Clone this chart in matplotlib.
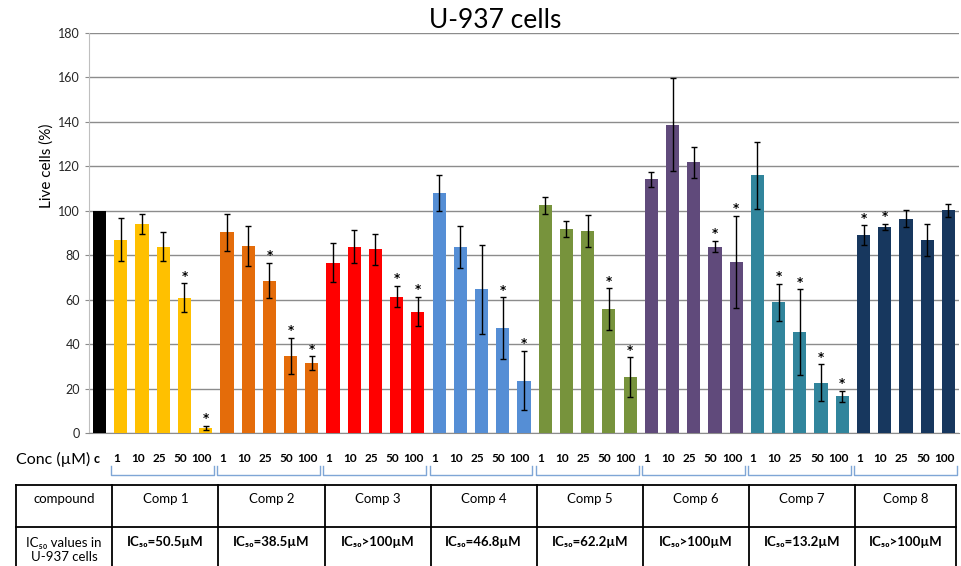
import numpy as np
import matplotlib
matplotlib.use("Agg")
import matplotlib.pyplot as plt

plt.rcParams['font.family'] = ['Lato', 'DejaVu Sans']

# datos
conc = ['1', '10', '25', '50', '100']
compuestos = ['Comp 1', 'Comp 2', 'Comp 3', 'Comp 4', 'Comp 5', 'Comp 6', 'Comp 7', 'Comp 8']
ic50 = ['IC₅₀=50.5µM', 'IC₅₀=38.5µM', 'IC₅₀>100µM', 'IC₅₀=46.8µM',
        'IC₅₀=62.2µM', 'IC₅₀>100µM', 'IC₅₀=13.2µM', 'IC₅₀>100µM']
colores = ['#FFC000', '#E46C0A', '#FF0000', '#558ED5',
           '#77933C', '#604A7B', '#31859C', '#17375E']
control = 100

comp1 = [86.9, 94.2, 83.9, 60.9, 2.4]
comp2 = [90.3, 84.2, 68.6, 34.7, 31.4]
comp3 = [76.7, 83.9, 82.7, 61.4, 54.6]
comp4 = [107.9, 83.6, 64.6, 47.1, 23.6]
comp5 = [102.4, 91.7, 90.9, 55.8, 25.2]
comp6 = [114.2, 138.8, 121.8, 83.9, 77.1]
comp7 = [116.0, 58.8, 45.5, 22.7, 16.5]
comp8 = [88.9, 92.7, 96.5, 86.9, 100.2]

err1 = [9.7, 4.5, 6.4, 6.4, 0.9]
err2 = [8.2, 8.9, 8.0, 8.2, 3.1]
err3 = [8.6, 7.6, 7.0, 4.9, 6.6]
err4 = [8.2, 9.5, 19.9, 13.9, 13.3]
err5 = [3.9, 3.6, 7.0, 9.3, 8.9]
err6 = [3.3, 21.0, 7.0, 2.6, 20.7]
err7 = [15.0, 8.3, 19.2, 8.2, 2.6]
err8 = [4.5, 1.5, 4.0, 7.3, 2.9]

# asterisco = diferencia significativa
sig1 = [0, 0, 0, 1, 1]
sig2 = [0, 0, 1, 1, 1]
sig3 = [0, 0, 0, 1, 1]
sig4 = [0, 0, 0, 1, 1]
sig5 = [0, 0, 0, 1, 1]
sig6 = [0, 0, 0, 1, 1]
sig7 = [0, 1, 1, 1, 1]
sig8 = [1, 1, 0, 0, 0]

medias = [comp1, comp2, comp3, comp4, comp5, comp6, comp7, comp8]
errores = [err1, err2, err3, err4, err5, err6, err7, err8]
signif = [sig1, sig2, sig3, sig4, sig5, sig6, sig7, sig8]

fig = plt.figure(figsize=(9.62, 5.66), dpi=100)
ax = fig.add_axes([89/962, 1-433/566, 870/962, 400/566])

gris = '#8c8c8c'
ax.bar(0, control, width=0.62, color='black', zorder=3)
for k in range(len(compuestos)):
    x = np.arange(5) + 1 + 5*k
    ax.bar(x, medias[k], width=0.62, color=colores[k], zorder=3)
    ax.errorbar(x, medias[k], yerr=errores[k], fmt='none', ecolor='black',
                elinewidth=1, capsize=2, capthick=1, zorder=4)
    for j in range(5):
        if signif[k][j]:
            ax.annotate('*', (x[j], medias[k][j] + errores[k][j]), xytext=(0, 0.5),
                        textcoords='offset points', ha='center', va='bottom',
                        fontsize=8.5, fontweight='bold', family='DejaVu Sans')

ax.set_xlim(-0.5, 40.5)
ax.set_ylim(0, 180)
ax.set_yticks(np.arange(0, 181, 20))
ax.set_xticks([])
ax.yaxis.grid(True, color=gris, lw=1, zorder=0)
ax.set_axisbelow(True)
for s in ['top', 'right']:
    ax.spines[s].set_visible(False)
ax.spines['left'].set_color('#bfbfbf')
ax.spines['bottom'].set_color(gris)
ax.tick_params(axis='y', length=3, color=gris, labelsize=9, labelcolor='#262626')

fig.text(495/962, 1-20/566, 'U-937 cells', ha='center', va='center', fontsize=19)
fig.text(47/962, 1-166/566, 'Live cells (%)', ha='center', va='center',
         rotation=90, fontsize=11)
fig.text(16/962, 1-459/566, 'Conc (µM)', ha='left', va='center', fontsize=11.5)

# etiquetas de concentracion y llaves debajo del eje
tr = ax.get_xaxis_transform()
ax.text(-0.15, -0.065, 'c', transform=tr, ha='center', va='center',
        fontsize=9, fontweight='bold', clip_on=False)
for k in range(len(compuestos)):
    x0 = 1 + 5*k
    for j in range(5):
        ax.text(x0 + j - 0.2, -0.065, conc[j], transform=tr, ha='center', va='center',
                fontsize=8.5, fontweight='bold', clip_on=False)
    ax.plot([x0 - 0.45, x0 - 0.45, x0 + 4.4, x0 + 4.4], [-0.082, -0.105, -0.105, -0.082],
            transform=tr, color='#7fa6d6', lw=1, clip_on=False)

# tabla con los IC50
bordes = [-3.95] + [0.6 + 5*k for k in range(8)] + [40.35]
for b in bordes:
    ax.plot([b, b], [-0.13, -0.34], transform=tr, color='black', lw=1.3, clip_on=False)
for yy in [-0.13, -0.235]:
    ax.plot([bordes[0], bordes[-1]], [yy, yy], transform=tr, color='black', lw=1.3, clip_on=False)

ax.text((bordes[0] + bordes[1])/2, -0.165, 'compound', transform=tr, ha='center',
        va='center', fontsize=9.5, clip_on=False)
ax.text((bordes[0] + bordes[1])/2, -0.2925, 'IC₅₀ values in\nU-937 cells', transform=tr,
        ha='center', va='center', fontsize=9.5, linespacing=1.2, clip_on=False)
for k in range(len(compuestos)):
    cx = (bordes[k+1] + bordes[k+2])/2
    ax.text(cx, -0.165, compuestos[k], transform=tr, ha='center', va='center',
            fontsize=9.5, clip_on=False)
    ax.text(cx, -0.2725, ic50[k], transform=tr, ha='center', va='center',
            fontsize=9.5, fontweight='bold', clip_on=False)

plt.savefig('out.png', dpi=100)
